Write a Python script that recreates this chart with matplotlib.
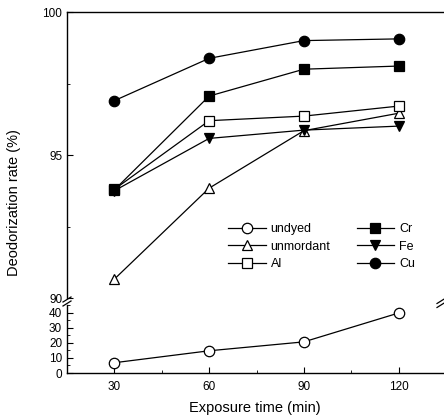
import matplotlib
matplotlib.use("Agg")
import matplotlib.pyplot as plt
from matplotlib.ticker import MultipleLocator

plt.rcParams['font.family'] = ['Liberation Sans', 'DejaVu Sans']

times = [30, 60, 90, 120]
undyed = [6.8, 14.7, 20.6, 39.7]
unmordant = [90.66, 93.84, 95.85, 96.46]
al = [93.8, 96.2, 96.36, 96.71]
cr = [93.78, 97.06, 98.0, 98.11]
fe = [93.75, 95.58, 95.87, 96.01]
cu = [96.9, 98.38, 99.0, 99.06]

W, H = 444, 415
fig = plt.figure(figsize=(W / 100, H / 100), dpi=100)

left = 67 / W
right = 446 / W
ax_top = fig.add_axes([left, 1 - 298 / H, right - left, (298 - 12) / H])
ax_bot = fig.add_axes([left, 1 - 373 / H, right - left, (373 - 305) / H])

lw = 0.9
ms = 7.5
common = dict(color='black', lw=lw, markersize=ms, markeredgewidth=0.9)

h_undyed, = ax_bot.plot(times, undyed, marker='o', markerfacecolor='white', label='undyed', **common)
h_unm, = ax_top.plot(times, unmordant, marker='^', markerfacecolor='white', label='unmordant', **common)
h_al, = ax_top.plot(times, al, marker='s', markerfacecolor='white', label='Al', **common)
h_cr, = ax_top.plot(times, cr, marker='s', markerfacecolor='black', label='Cr', **common)
h_fe, = ax_top.plot(times, fe, marker='v', markerfacecolor='black', label='Fe', **common)
h_cu, = ax_top.plot(times, cu, marker='o', markerfacecolor='black', label='Cu', **common)

for ax in (ax_top, ax_bot):
    ax.set_xlim(15, 135)
    ax.spines['right'].set_visible(False)
    for s in ax.spines.values():
        s.set_linewidth(1.0)

ax_top.set_ylim(90, 100)
ax_top.spines['bottom'].set_visible(False)
ax_top.set_yticks([90, 95, 100])
ax_top.yaxis.set_minor_locator(MultipleLocator(2.5))
ax_top.tick_params(axis='x', which='both', bottom=False, labelbottom=False)
ax_top.tick_params(axis='y', which='both', direction='in', labelsize=8.5)
ax_top.tick_params(axis='y', which='major', length=4)
ax_top.tick_params(axis='y', which='minor', length=2.5)

ax_bot.set_ylim(0, 45)
ax_bot.spines['top'].set_visible(False)
ax_bot.set_yticks([0, 10, 20, 30, 40])
ax_bot.yaxis.set_minor_locator(MultipleLocator(5))
ax_bot.set_xticks(times)
ax_bot.xaxis.set_minor_locator(MultipleLocator(15))
ax_bot.tick_params(axis='both', which='both', direction='in', labelsize=8.5)
ax_bot.tick_params(axis='both', which='major', length=4)
ax_bot.tick_params(axis='both', which='minor', length=2.5)
ax_bot.tick_params(axis='x', pad=6)

# break marks
for (x, y) in [(67, 301.5), (441, 303)]:
    for dy in (-2, 2):
        fig.add_artist(plt.Line2D([(x - 4) / W, (x + 4) / W],
                                  [1 - (y + dy + 2.5) / H, 1 - (y + dy - 2.5) / H],
                                  color='black', lw=0.9, transform=fig.transFigure))

fig.text(14 / W, 1 - 203 / H, 'Deodorization rate (%)', rotation=90,
         ha='center', va='center', fontsize=10.5)
fig.text(255 / W, 1 - 408 / H, 'Exposure time (min)', ha='center', va='center', fontsize=10.5)

fig.legend(handles=[h_undyed, h_unm, h_al, h_cr, h_fe, h_cu], ncol=2,
           loc='upper left', bbox_to_anchor=(228 / W, 1 - 223 / H),
           frameon=False, fontsize=9, handlelength=3.0, handletextpad=0.4,
           columnspacing=2.1, labelspacing=0.45, borderpad=0, borderaxespad=0)

fig.savefig('out.png', dpi=100)
